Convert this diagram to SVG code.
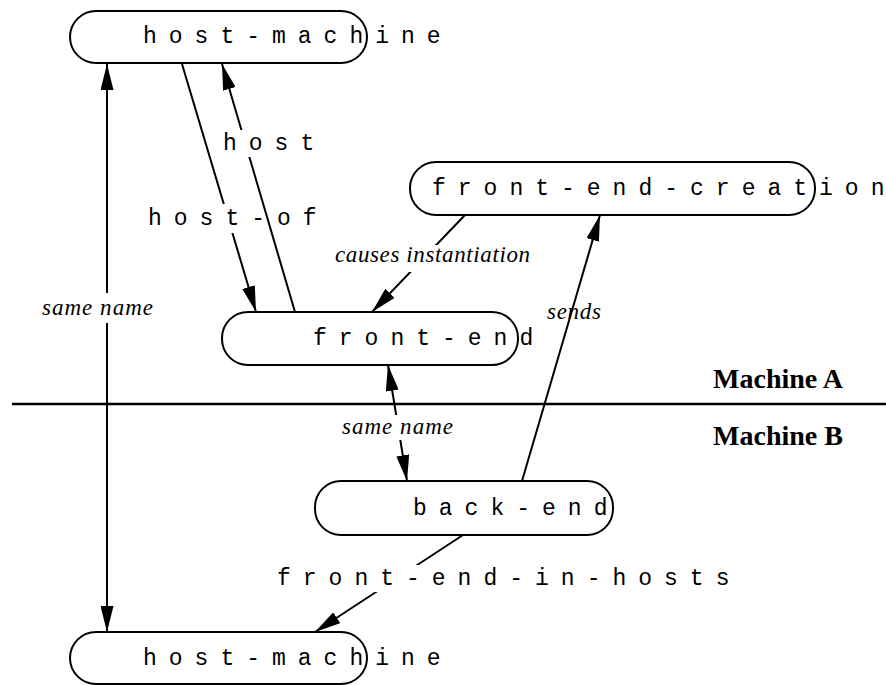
<svg xmlns="http://www.w3.org/2000/svg" width="886" height="685" viewBox="0 0 886 685">
<style>
.node rect{fill:#fff;stroke:#000;stroke-width:2}
.node text{font-family:"Liberation Mono",monospace;font-size:23px;letter-spacing:12px;fill:#000}
.edge line{stroke:#000;stroke-width:2;fill:none}
.ml{font-family:"Liberation Mono",monospace;font-size:23px;letter-spacing:12px;fill:#000}
.il{font-family:"Liberation Serif",serif;font-style:italic;font-size:23px;fill:#000}
.bg{fill:#fff}
.mach{font-family:"Liberation Serif",serif;font-weight:bold;font-size:27px;fill:#000}
.ls0{letter-spacing:0}
</style>
<defs>
<marker id="arr" viewBox="0 0 26 13" refX="26" refY="6.5" markerWidth="26" markerHeight="13" markerUnits="userSpaceOnUse" orient="auto-start-reverse">
<path d="M0,0 L26,6.5 L0,13 z" fill="#000"/>
</marker>
</defs>
<line x1="12" y1="404" x2="886" y2="404" stroke="#000" stroke-width="2.5"/>
<text class="mach" x="713" y="388" textLength="130" lengthAdjust="spacingAndGlyphs">Machine A</text>
<text class="mach" x="713" y="445" textLength="130" lengthAdjust="spacingAndGlyphs">Machine B</text>
<g id="connectors">
<g class="edge" id="e-host-of">
<line x1="182" y1="64" x2="256" y2="312" marker-end="url(#arr)"/>
<rect class="bg" x="146" y="204" width="176" height="29"/>
<text class="ml" x="148" y="225">host-o<tspan class="ls0">f</tspan></text>
</g>
<g class="edge" id="e-host">
<line x1="295" y1="312" x2="222" y2="64" marker-end="url(#arr)"/>
<rect class="bg" x="220" y="130" width="100" height="27"/>
<text class="ml" x="223" y="150">hos<tspan class="ls0">t</tspan></text>
</g>
<g class="edge" id="e-same-name-1">
<line x1="107" y1="64" x2="107" y2="632" marker-start="url(#arr)" marker-end="url(#arr)"/>
<rect class="bg" x="40" y="293" width="116" height="30"/>
<text class="il" x="42" y="315" textLength="111" lengthAdjust="spacing">same name</text>
</g>
<g class="edge" id="e-causes">
<line x1="465" y1="215" x2="372" y2="312" marker-end="url(#arr)"/>
<rect class="bg" x="333" y="245" width="200" height="27"/>
<text class="il" x="335" y="262" textLength="195" lengthAdjust="spacing">causes instantiation</text>
</g>
<g class="edge" id="e-sends">
<line x1="522" y1="481" x2="600" y2="215" marker-end="url(#arr)"/>
<text class="il" x="547" y="319" textLength="54" lengthAdjust="spacing">sends</text>
</g>
<g class="edge" id="e-same-name-2">
<line x1="388" y1="365" x2="407" y2="481" marker-start="url(#arr)" marker-end="url(#arr)"/>
<rect class="bg" x="340" y="415" width="116" height="25"/>
<text class="il" x="342" y="434" textLength="111" lengthAdjust="spacing">same name</text>
</g>
<g class="edge" id="e-front-end-in-hosts">
<line x1="463" y1="535" x2="315" y2="632" marker-end="url(#arr)"/>
<rect class="bg" x="275" y="565" width="456" height="27"/>
<text class="ml" x="277" y="585">front-end-in-host<tspan class="ls0">s</tspan></text>
</g>
</g>
<g class="node" id="host-machine-top">
<rect x="70" y="11" width="297" height="52" rx="26"/>
<text x="143" y="43">host-machin<tspan class="ls0">e</tspan></text>
</g>
<g class="node" id="front-end-creation">
<rect x="410" y="162" width="405" height="53" rx="26"/>
<text x="432" y="195">front-end-creatio<tspan class="ls0">n</tspan></text>
</g>
<g class="node" id="front-end">
<rect x="222" y="312" width="296" height="53" rx="26"/>
<text x="313" y="345">front-en<tspan class="ls0">d</tspan></text>
</g>
<g class="node" id="back-end">
<rect x="315" y="481" width="298" height="54" rx="26"/>
<text x="413" y="515">back-en<tspan class="ls0">d</tspan></text>
</g>
<g class="node" id="host-machine-bottom">
<rect x="70" y="632" width="297" height="52" rx="26"/>
<text x="143" y="665">host-machin<tspan class="ls0">e</tspan></text>
</g>
</svg>
